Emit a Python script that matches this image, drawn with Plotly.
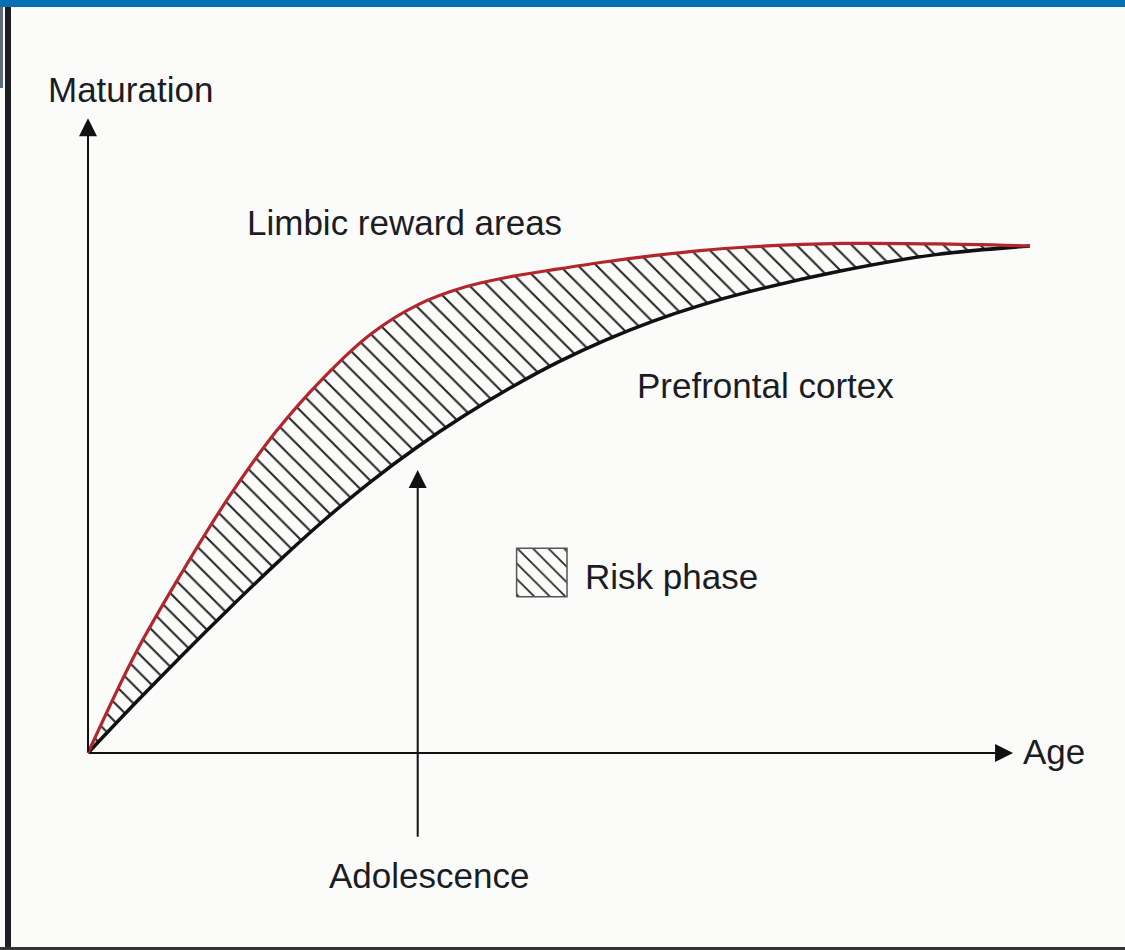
import plotly.graph_objects as go

# ---- data (age and maturation in relative units, 0..100) ----
age = [0, 5, 10, 15, 20, 25, 30, 35, 40, 45, 50, 55, 60, 65, 70, 80, 90, 100]
limbic = [0, 19.5, 35.7, 50.6, 63.5, 74.0, 82.6, 88.4, 91.9, 94.0, 95.5, 96.9, 98.1, 99.1, 99.8, 100.5, 100.4, 100.0]
prefrontal = [0, 9.8, 19.3, 28.5, 37.4, 45.8, 53.5, 60.4, 66.6, 72.2, 77.2, 81.5, 85.2, 88.3, 90.9, 95.1, 98.3, 100.0]

adolescence_age = 35.0
age_axis_end = 98.2
maturation_axis_end = 125.2

FONT = "Liberation Sans, Arial, sans-serif"
TXT = "#1c1c24"
HATCH = dict(shape="\\", fgcolor="#262626", bgcolor="rgba(0,0,0,0)", size=13, solidity=0.16, fillmode="replace")

fig = go.Figure()

fig.add_trace(go.Scatter(
    x=age, y=prefrontal, mode="lines",
    line=dict(color="#111111", width=3.5, shape="spline", smoothing=1.0),
    showlegend=False, hoverinfo="skip"))

fig.add_trace(go.Scatter(
    x=age, y=limbic, mode="lines", fill="tonexty",
    fillpattern=HATCH, fillcolor="rgba(0,0,0,0)",
    line=dict(color="#b3262b", width=3.2, shape="spline", smoothing=1.0),
    showlegend=False, hoverinfo="skip"))

# legend swatch for "Risk phase"
sw_x0, sw_x1, sw_y0, sw_y1 = 45.5, 50.85, 30.8, 40.4
fig.add_trace(go.Scatter(
    x=[sw_x0, sw_x1, sw_x1, sw_x0, sw_x0], y=[sw_y0, sw_y0, sw_y1, sw_y1, sw_y0],
    mode="lines", fill="toself", fillpattern=dict(HATCH, size=11),
    fillcolor="rgba(0,0,0,0)", line=dict(color="#555555", width=1.5),
    showlegend=False, hoverinfo="skip"))

anns = []
# axis arrows
anns.append(dict(x=age_axis_end, y=0, ax=0, ay=0, xref="x", yref="y", axref="x", ayref="y",
                 text="", showarrow=True, arrowhead=2, arrowsize=1.8, arrowwidth=2, arrowcolor="#111"))
anns.append(dict(x=0, y=maturation_axis_end, ax=0, ay=0, xref="x", yref="y", axref="x", ayref="y",
                 text="", showarrow=True, arrowhead=2, arrowsize=1.8, arrowwidth=2, arrowcolor="#111"))
# adolescence arrow
anns.append(dict(x=adolescence_age, y=55.8, ax=adolescence_age, ay=-16.8, xref="x", yref="y",
                 axref="x", ayref="y", text="", showarrow=True, arrowhead=2, arrowsize=1.8,
                 arrowwidth=2, arrowcolor="#111"))

def label(text, x, y, xanchor="center"):
    anns.append(dict(x=x, y=y, xref="x", yref="y", text=text, showarrow=False,
                     xanchor=xanchor, yanchor="middle", font=dict(family=FONT, size=35, color=TXT)))

label("Maturation", 4.46, 130.8)
label("Limbic reward areas", 33.65, 104.7)
label("Prefrontal cortex", 71.97, 72.4)
label("Risk phase", 52.6, 34.9, "left")
label("Age", 99.0, 0.2, "left")
label("Adolescence", 36.2, -24.1)

shapes = [
    dict(type="rect", xref="paper", yref="paper", x0=0, x1=1, y0=1 - 7/950, y1=1,
         fillcolor="#0670b3", line=dict(width=0)),
    dict(type="rect", xref="paper", yref="paper", x0=5/1125, x1=11/1125, y0=0, y1=1 - 7/950,
         fillcolor="#1e1e22", line=dict(width=0)),
    dict(type="rect", xref="paper", yref="paper", x0=0, x1=3/1125, y0=1 - 88/950, y1=1 - 7/950,
         fillcolor="#5d6b7c", line=dict(width=0)),
    dict(type="rect", xref="paper", yref="paper", x0=0, x1=1, y0=0, y1=3/950,
         fillcolor="#333333", line=dict(width=0)),
]

fig.update_layout(
    width=1125, height=950,
    margin=dict(l=0, r=0, t=0, b=0),
    paper_bgcolor="#fbfcfa", plot_bgcolor="#fbfcfa",
    xaxis=dict(range=[-88/9.42, (1125-88)/9.42], visible=False, fixedrange=True),
    yaxis=dict(range=[(753-950)/5.07, 753/5.07], visible=False, fixedrange=True),
    annotations=anns, shapes=shapes, showlegend=False,
)

fig.write_html("out.html", config={"displayModeBar": False},
               post_script="document.body.style.margin='0';document.body.style.overflow='hidden';")
